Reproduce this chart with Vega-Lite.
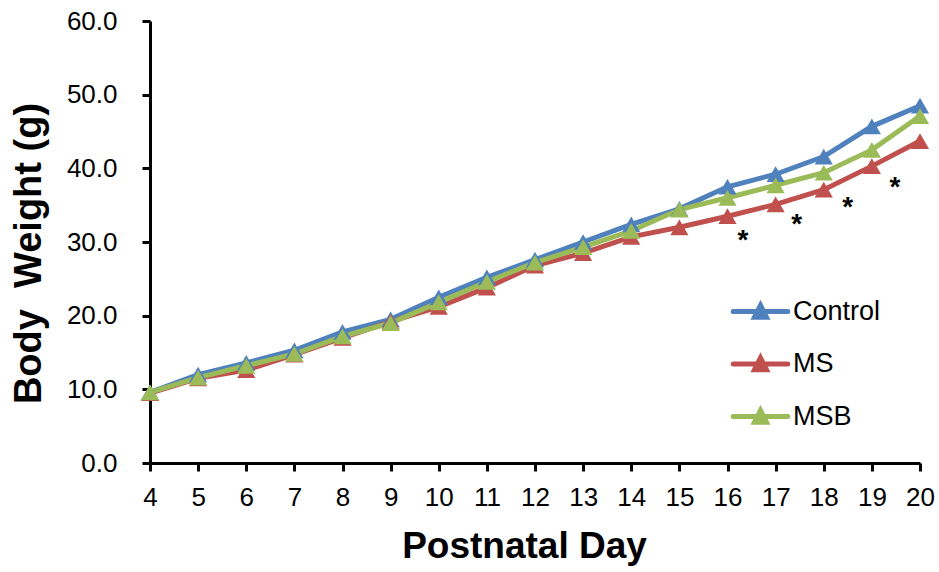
{
  "$schema": "https://vega.github.io/schema/vega-lite/v6.json",
  "width": 770,
  "height": 442,
  "autosize": {"type": "none"},
  "padding": {"left": 150, "top": 21, "right": 19, "bottom": 109},
  "background": "white",
  "config": {
    "view": {"stroke": null},
    "font": "Liberation Sans",
    "axis": {"domainColor": "black", "domainWidth": 3, "tickColor": "black", "tickWidth": 3, "tickSize": 8, "grid": false, "labelColor": "black", "labelFontSize": 26, "labelFont": "Liberation Sans", "titleFont": "Liberation Sans", "titleFontSize": 37, "titleFontWeight": "bold", "titleColor": "black", "labelFlush": false, "labelOverlap": false}
  },
  "datasets": {
    "weights": [
      {"day": 4, "group": "Control", "weight": 9.6},
      {"day": 5, "group": "Control", "weight": 12.0},
      {"day": 6, "group": "Control", "weight": 13.6},
      {"day": 7, "group": "Control", "weight": 15.3},
      {"day": 8, "group": "Control", "weight": 17.8},
      {"day": 9, "group": "Control", "weight": 19.5},
      {"day": 10, "group": "Control", "weight": 22.5},
      {"day": 11, "group": "Control", "weight": 25.2},
      {"day": 12, "group": "Control", "weight": 27.6},
      {"day": 13, "group": "Control", "weight": 30.0},
      {"day": 14, "group": "Control", "weight": 32.4},
      {"day": 15, "group": "Control", "weight": 34.5},
      {"day": 16, "group": "Control", "weight": 37.5},
      {"day": 17, "group": "Control", "weight": 39.2},
      {"day": 18, "group": "Control", "weight": 41.6},
      {"day": 19, "group": "Control", "weight": 45.7},
      {"day": 20, "group": "Control", "weight": 48.5},
      {"day": 4, "group": "MS", "weight": 9.5},
      {"day": 5, "group": "MS", "weight": 11.5},
      {"day": 6, "group": "MS", "weight": 12.6},
      {"day": 7, "group": "MS", "weight": 14.7},
      {"day": 8, "group": "MS", "weight": 17.0},
      {"day": 9, "group": "MS", "weight": 19.2},
      {"day": 10, "group": "MS", "weight": 21.2},
      {"day": 11, "group": "MS", "weight": 23.8},
      {"day": 12, "group": "MS", "weight": 26.8},
      {"day": 13, "group": "MS", "weight": 28.5},
      {"day": 14, "group": "MS", "weight": 30.7},
      {"day": 15, "group": "MS", "weight": 32.0},
      {"day": 16, "group": "MS", "weight": 33.5},
      {"day": 17, "group": "MS", "weight": 35.1},
      {"day": 18, "group": "MS", "weight": 37.1},
      {"day": 19, "group": "MS", "weight": 40.3},
      {"day": 20, "group": "MS", "weight": 43.7},
      {"day": 4, "group": "MSB", "weight": 9.6},
      {"day": 5, "group": "MSB", "weight": 11.6},
      {"day": 6, "group": "MSB", "weight": 13.2},
      {"day": 7, "group": "MSB", "weight": 14.8},
      {"day": 8, "group": "MSB", "weight": 17.2},
      {"day": 9, "group": "MSB", "weight": 19.0},
      {"day": 10, "group": "MSB", "weight": 21.8},
      {"day": 11, "group": "MSB", "weight": 24.6},
      {"day": 12, "group": "MSB", "weight": 27.2},
      {"day": 13, "group": "MSB", "weight": 29.3},
      {"day": 14, "group": "MSB", "weight": 31.5},
      {"day": 15, "group": "MSB", "weight": 34.4},
      {"day": 16, "group": "MSB", "weight": 36.0},
      {"day": 17, "group": "MSB", "weight": 37.7},
      {"day": 18, "group": "MSB", "weight": 39.4},
      {"day": 19, "group": "MSB", "weight": 42.5},
      {"day": 20, "group": "MSB", "weight": 47.1}
    ],
    "stars": [
      {"day": 16.32, "weight": 30.2, "label": "*"},
      {"day": 17.44, "weight": 32.3, "label": "*"},
      {"day": 18.5, "weight": 34.6, "label": "*"},
      {"day": 19.48, "weight": 37.3, "label": "*"}
    ]
  },
  "layer": [
    {
      "data": {"name": "weights"},
      "mark": {"type": "line", "strokeWidth": 5},
      "encoding": {
        "x": {"field": "day", "type": "quantitative", "scale": {"domain": [4, 20], "nice": false, "zero": false},
          "axis": {"values": [4,5,6,7,8,9,10,11,12,13,14,15,16,17,18,19,20], "title": "Postnatal Day", "labelPadding": 13, "titlePadding": 18, "titleX": 374, "titleAlign": "center"}},
        "y": {"field": "weight", "type": "quantitative", "scale": {"domain": [0, 60], "nice": false},
          "axis": {"values": [0,10,20,30,40,50,60], "format": ".1f", "title": "Body\u00a0 Weight (g)", "labelPadding": 25, "titlePadding": 18, "titleFontSize": 38, "titleY": 232, "titleAlign": "center"}},
        "color": {"field": "group", "type": "nominal",
          "scale": {"domain": ["Control", "MS", "MSB"], "range": ["#4F81BD", "#C0504D", "#9BBB59"]},
          "legend": {"orient": "none", "legendX": 582, "legendY": 262, "title": null, "labelFontSize": 27, "labelColor": "black", "labelOffset": 4, "rowPadding": 7.5,
            "symbolType": "M-1.05,0L1.05,0M-0.23,0.22L0,-0.24L0.23,0.22Z", "symbolSize": 2704, "symbolStrokeWidth": 5, "symbolOpacity": 1,
            "encode": {"symbols": {"update": {"stroke": {"scale": "color", "field": "value"}, "fill": {"scale": "color", "field": "value"}, "strokeCap": {"value": "round"}}}}}},
        "order": {"field": "group"}
      }
    },
    {
      "data": {"name": "weights"},
      "mark": {"type": "point", "shape": "triangle-up", "filled": true, "size": 330, "opacity": 1},
      "encoding": {
        "x": {"field": "day", "type": "quantitative"},
        "y": {"field": "weight", "type": "quantitative"},
        "color": {"field": "group", "type": "nominal"}
      }
    },
    {
      "data": {"name": "stars"},
      "mark": {"type": "text", "fontSize": 28, "fontWeight": "bold", "color": "black", "baseline": "middle"},
      "encoding": {
        "x": {"field": "day", "type": "quantitative"},
        "y": {"field": "weight", "type": "quantitative"},
        "text": {"field": "label"}
      }
    }
  ]
}
